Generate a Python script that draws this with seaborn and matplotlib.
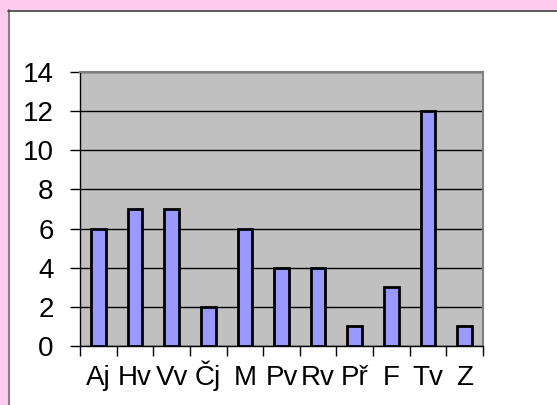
import numpy as np
import pandas as pd
import matplotlib
matplotlib.use("Agg")
import matplotlib.pyplot as plt
from matplotlib.lines import Line2D
from matplotlib.patches import Rectangle
import seaborn as sns

# Data
subjects = ['Aj', 'Hv', 'Vv', 'Čj', 'M', 'Pv', 'Rv', 'Př', 'F', 'Tv', 'Z']
counts = [6, 7, 7, 2, 6, 4, 4, 1, 3, 12, 1]
y_ticks = [0, 2, 4, 6, 8, 10, 12, 14]

df = pd.DataFrame({'subject': subjects, 'count': counts})

sns.set_style('white')
plt.rcParams['font.family'] = ['Liberation Sans', 'DejaVu Sans']
plt.rcParams['xtick.color'] = 'black'
plt.rcParams['ytick.color'] = 'black'
plt.rcParams['xtick.labelcolor'] = 'black'
plt.rcParams['ytick.labelcolor'] = 'black'

W, H = 557, 405
fig = plt.figure(figsize=(W / 100, H / 100), dpi=100)
fig.patch.set_facecolor('white')

# pink page border (top band and left strip)
pink = '#FFCCF0'
fig.patches.append(Rectangle((0, 1 - 10 / H), 1, 10 / H, transform=fig.transFigure,
                             facecolor=pink, edgecolor='none', zorder=0))
fig.patches.append(Rectangle((0, 0), 8 / W, 1, transform=fig.transFigure,
                             facecolor=pink, edgecolor='none', zorder=0))
# frame lines of the chart box
fig.lines.append(Line2D([8.5 / W, 8.5 / W], [0, 1 - 10 / H], transform=fig.transFigure,
                        color='#808080', lw=1.5))
fig.lines.append(Line2D([8 / W, 1], [1 - 10.5 / H, 1 - 10.5 / H], transform=fig.transFigure,
                        color='#404040', lw=1.2))

# plot area
ax = fig.add_axes([80 / W, 59 / H, 403 / W, 274 / H])
ax.set_facecolor('#C0C0C0')

sns.barplot(data=df, x='subject', y='count', color='#9999FF', edgecolor='black',
            linewidth=2, width=0.4, saturation=1, ax=ax, zorder=3)

ax.set_ylim(0, 14)
ax.set_xlim(-0.5, len(subjects) - 0.5)
ax.set_yticks(y_ticks)
ax.yaxis.grid(True, color='black', linewidth=1)
ax.set_axisbelow(True)
ax.set_xlabel('')
ax.set_ylabel('')

# x ticks at category boundaries, labels centered on a common baseline
ax.set_xticks(np.arange(len(subjects)))
ax.set_xticklabels(subjects)
ax.set_xticks(np.arange(-0.5, len(subjects), 1), minor=True)
ax.tick_params(axis='x', which='major', length=0, pad=28, labelsize=20)
ax.tick_params(axis='x', which='minor', length=7, width=1, color='black', direction='out', bottom=True)
ax.tick_params(axis='y', length=7, width=1, color='black', direction='out', left=True,
               pad=12, labelsize=20)
for lab in ax.get_xticklabels():
    lab.set_verticalalignment('baseline')

for side in ['left', 'bottom']:
    ax.spines[side].set_color('black')
    ax.spines[side].set_linewidth(1)
for side in ['top', 'right']:
    ax.spines[side].set_color('#808080')
    ax.spines[side].set_linewidth(1.5)

fig.savefig('out.png', dpi=100)
